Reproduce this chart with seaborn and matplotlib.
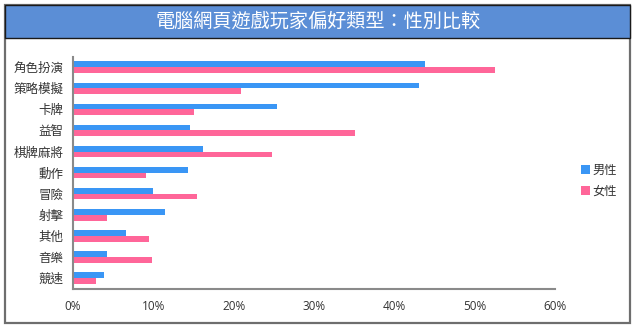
import matplotlib
matplotlib.use("Agg")
import matplotlib.pyplot as plt
from matplotlib.patches import Rectangle, Patch
import seaborn as sns
import pandas as pd

categories = ["角色扮演", "策略模擬", "卡牌", "益智", "棋牌麻將", "動作",
              "冒險", "射擊", "其他", "音樂", "競速"]
male = [43.8, 43.1, 25.4, 14.6, 16.2, 14.3, 10.0, 11.5, 6.6, 4.2, 3.9]
female = [52.5, 20.9, 15.0, 35.1, 24.8, 9.1, 15.4, 4.2, 9.4, 9.8, 2.9]
series = ["男性", "女性"]
x_ticks = [0, 10, 20, 30, 40, 50, 60]
x_ticklabels = ["0%", "10%", "20%", "30%", "40%", "50%", "60%"]
title = "電腦網頁遊戲玩家偏好類型：性別比較"

colors = {"男性": "#3A96F5", "女性": "#FF6699"}

df = pd.DataFrame({
    "類型": categories * 2,
    "比例": male + female,
    "性別": [series[0]] * len(categories) + [series[1]] * len(categories),
})

sns.set_theme(style="white")
cjk = ["Noto Sans CJK TC", "DejaVu Sans"]
plt.rcParams["font.family"] = cjk

fig = plt.figure(figsize=(6.35, 3.31), dpi=100)
fig.patch.set_facecolor("white")

# outer frame and title band
fig.patches.append(Rectangle((5 / 635, 1 - 323 / 331), 625 / 635, 318 / 331,
                             transform=fig.transFigure, facecolor="none",
                             edgecolor="#6e6e6e", linewidth=1.6, zorder=0))
fig.patches.append(Rectangle((5 / 635, 1 - 37.7 / 331), 625 / 635, 32.7 / 331,
                             transform=fig.transFigure, facecolor="#5B8ED6",
                             edgecolor="#1a1a1a", linewidth=1.0, zorder=1))
fig.text(318 / 635, 1 - 21.5 / 331, title, color="white", fontsize=13.8,
         ha="center", va="center", family=cjk, zorder=2)

ax = fig.add_axes([73 / 635, 1 - 288.5 / 331, 482 / 635, 231.8 / 331])
ax.set_facecolor("none")
ax.set_zorder(3)
sns.barplot(data=df, x="比例", y="類型", hue="性別", orient="h",
            palette=colors, width=0.55, gap=0, saturation=1,
            linewidth=0, ax=ax, legend=False)

ax.set_xlim(0, 60)
ax.set_xticks(x_ticks)
ax.set_xticklabels(x_ticklabels, family=["Open Sans", "DejaVu Sans"], fontsize=8.5,
                   color="#333333")
ax.tick_params(axis="x", length=0, pad=8)
ax.tick_params(axis="y", length=0, pad=7, labelsize=9, labelcolor="#333333")
ax.set_xlabel("")
ax.set_ylabel("")
for side in ["top", "right"]:
    ax.spines[side].set_visible(False)
for side in ["left", "bottom"]:
    ax.spines[side].set_color("#8a8a8a")
    ax.spines[side].set_linewidth(1.5)

handles = [Patch(facecolor=colors[s], edgecolor="none", label=s) for s in series]
fig.legend(handles=handles, loc="upper left", bbox_to_anchor=(581 / 635, 1 - 164 / 331),
           frameon=False, handlelength=0.75, handleheight=0.75, handletextpad=0.2,
           labelspacing=0.65, fontsize=8.8, borderaxespad=0, borderpad=0,
           labelcolor="#333333")

fig.savefig("out.png", dpi=100)
